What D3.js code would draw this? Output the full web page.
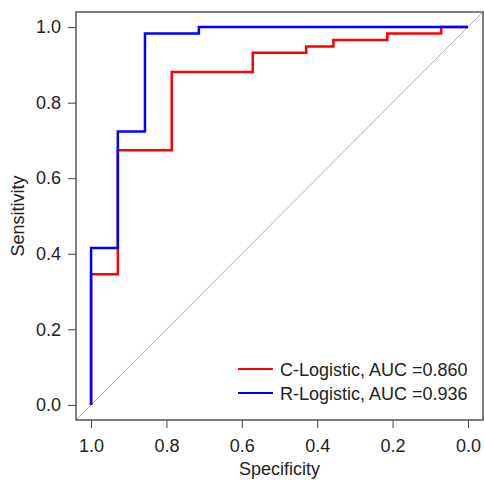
<!DOCTYPE html>
<html>
<head>
<meta charset="utf-8">
<script src="https://cdn.jsdelivr.net/npm/d3@7"></script>
<style>
  body { margin: 0; background: #fff; }
  text { font-family: "Liberation Sans", Arial, sans-serif; fill: #222; }
</style>
</head>
<body>
<svg width="484" height="484"></svg>
<script>
// ROC step points (specificity, sensitivity)
const cSpec = [1.0, 1.0, 0.929, 0.929, 0.786, 0.786, 0.571, 0.571, 0.429, 0.429, 0.357, 0.357, 0.214, 0.214, 0.071, 0.071, 0.0];
const cSens = [0.0, 0.346, 0.346, 0.674, 0.674, 0.881, 0.881, 0.932, 0.932, 0.949, 0.949, 0.966, 0.966, 0.983, 0.983, 1.0, 1.0];
const rSpec = [1.0, 1.0, 0.929, 0.929, 0.857, 0.857, 0.714, 0.714, 0.0];
const rSens = [0.0, 0.415, 0.415, 0.724, 0.724, 0.983, 0.983, 1.0, 1.0];
const ticks = [1.0, 0.8, 0.6, 0.4, 0.2, 0.0];
const legendLabels = ['C-Logistic, AUC =0.860', 'R-Logistic, AUC =0.936'];
const colors = ['#ff0000', '#0000ff'];

const svg = d3.select('svg');
const mLeft = 76, mRight = 483, mTop = 12, mBottom = 420;
const fontSize = '18px';

const x = d3.scaleLinear().domain([1.04, -0.04]).range([mLeft, mRight]);
const y = d3.scaleLinear().domain([-0.04, 1.04]).range([mBottom, mTop]);

// diagonal reference
svg.append('line')
  .attr('x1', x(1.04)).attr('y1', y(-0.04))
  .attr('x2', x(-0.04)).attr('y2', y(1.04))
  .style('stroke', '#b0b0b0')
  .style('stroke-width', 1);

const line = d3.line().x(d => x(d[0])).y(d => y(d[1]));

function curve(spec, sens, color) {
  svg.append('path')
    .datum(spec.map((s, i) => [s, sens[i]]))
    .attr('d', line)
    .style('fill', 'none')
    .style('stroke', color)
    .style('stroke-width', 2.5);
}

curve(cSpec, cSens, colors[0]);
curve(rSpec, rSens, colors[1]);

// box
svg.append('rect')
  .attr('x', mLeft).attr('y', mTop)
  .attr('width', mRight - mLeft).attr('height', mBottom - mTop)
  .style('fill', 'none')
  .style('stroke', '#555')
  .style('stroke-width', 1.5);

// axes
const xAxis = svg.append('g')
  .attr('transform', `translate(0,${mBottom})`)
  .call(d3.axisBottom(x).tickValues(ticks).tickFormat(d3.format('.1f')).tickSize(8).tickPadding(11));
const yAxis = svg.append('g')
  .attr('transform', `translate(${mLeft},0)`)
  .call(d3.axisLeft(y).tickValues(ticks).tickFormat(d3.format('.1f')).tickSize(8).tickPadding(7));

[xAxis, yAxis].forEach(g => {
  g.select('.domain').remove();
  g.selectAll('.tick line').style('stroke', '#444');
  g.selectAll('.tick text')
    .style('font-size', fontSize)
    .style('font-family', '"Liberation Sans", Arial, sans-serif')
    .style('fill', '#222');
});

svg.append('text')
  .attr('x', (mLeft + mRight) / 2)
  .attr('y', 475)
  .attr('text-anchor', 'middle')
  .style('font-size', fontSize)
  .text('Specificity');

svg.append('text')
  .attr('transform', `translate(24,${(mTop + mBottom) / 2}) rotate(-90)`)
  .attr('text-anchor', 'middle')
  .style('font-size', fontSize)
  .text('Sensitivity');

// legend
legendLabels.forEach((lab, i) => {
  const ly = 369 + i * 24;
  svg.append('line')
    .attr('x1', 238).attr('x2', 273)
    .attr('y1', ly).attr('y2', ly)
    .style('stroke', colors[i])
    .style('stroke-width', 2);
  svg.append('text')
    .attr('x', 280).attr('y', ly)
    .attr('dy', '0.4em')
    .style('font-size', fontSize)
    .text(lab);
});
</script>
</body>
</html>
